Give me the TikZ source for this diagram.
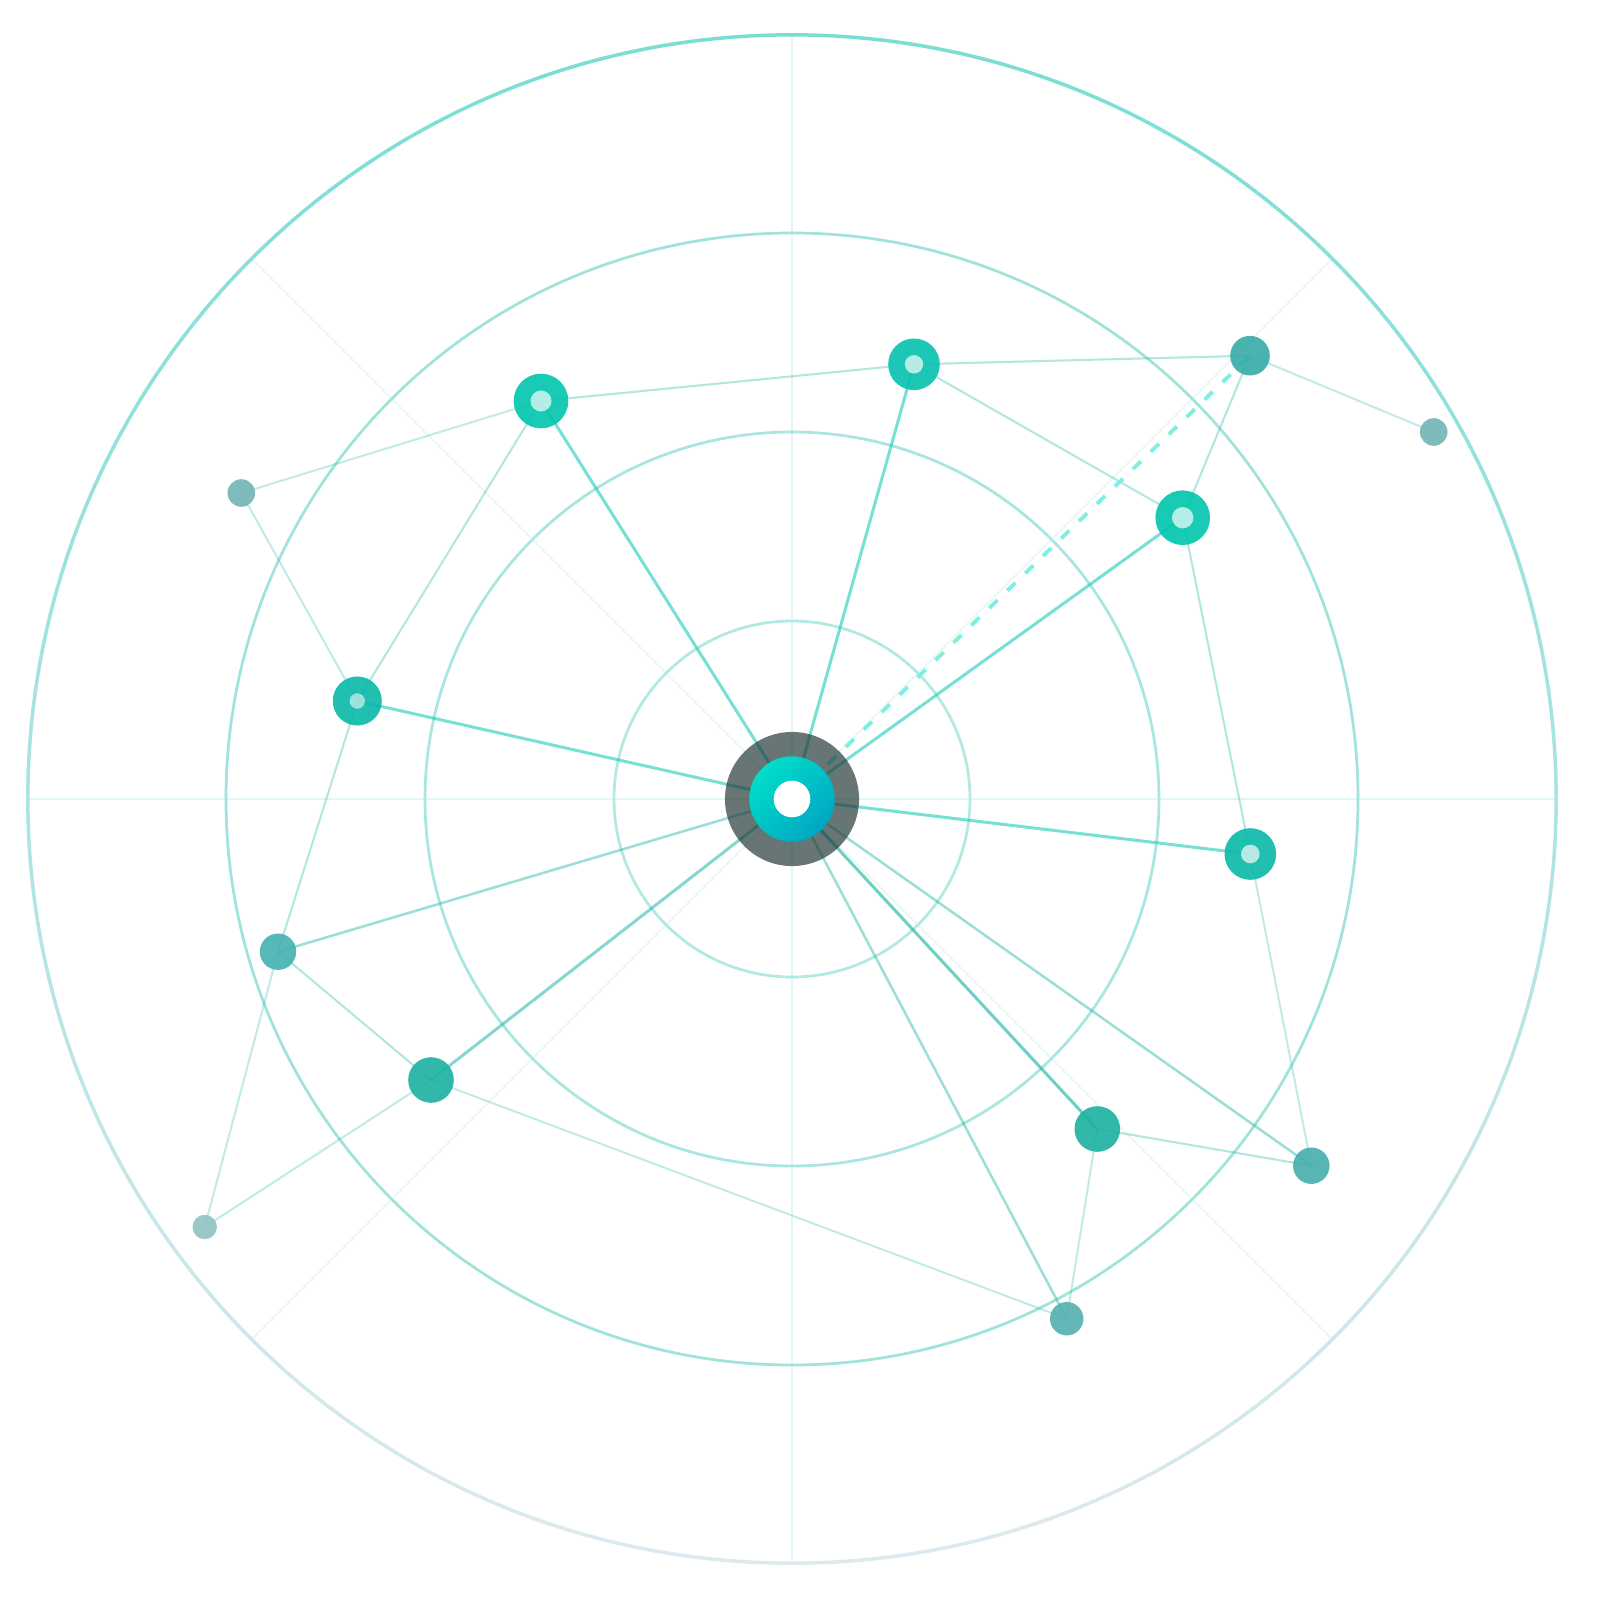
\documentclass[tikz,border=0pt]{standalone}
\definecolor{outerTop}{HTML}{78DED4}
\definecolor{outerBot}{HTML}{DEE9EE}
\definecolor{ringOne}{HTML}{B2E9E2}
\definecolor{ringTwo}{HTML}{A8E6DF}
\definecolor{ringThree}{HTML}{A0E3DB}
\definecolor{gridC}{HTML}{E2F6F3}
\definecolor{gridD}{HTML}{E8F8F5}
\definecolor{edgeMain}{HTML}{22CDBB}
\definecolor{edgeMid}{HTML}{16B3A3}
\definecolor{edgePer}{HTML}{1FB8A6}
\definecolor{dashC}{HTML}{7EF0E2}
\definecolor{hubGray}{HTML}{1F3535}
\definecolor{hubTop}{HTML}{00DEC8}
\definecolor{hubBot}{HTML}{00A6C2}
\definecolor{nBright}{HTML}{00C6AD}
\definecolor{nBrightB}{HTML}{06C2AE}
\definecolor{nRing}{HTML}{09B9A8}
\definecolor{nD}{HTML}{37ABA7}
\definecolor{nE}{HTML}{72B4B3}
\definecolor{nH}{HTML}{45B1B1}
\definecolor{nI}{HTML}{1CB1A0}
\definecolor{nJ}{HTML}{91C2C1}
\definecolor{nL}{HTML}{45ADAD}
\definecolor{nM}{HTML}{55AFAF}
\tikzset{
  gridline/.style={draw=gridC, line width=0.45pt},
  gridline2/.style={draw=gridD, line width=0.42pt},
  ringline/.style={line width=0.78pt},
  spokemain/.style={draw=edgeMain, draw opacity=0.62, line width=0.85pt},
  spokemid/.style={draw=edgeMid, draw opacity=0.62, line width=0.85pt},
  spokemid2/.style={draw=edgeMid, draw opacity=0.52, line width=0.85pt},
  spokelight/.style={draw=edgeMid, draw opacity=0.42, line width=0.72pt},
  periph/.style={draw=edgePer, draw opacity=0.34, line width=0.58pt},
  periphfaint/.style={draw=edgePer, draw opacity=0.27, line width=0.58pt},
  dashlink/.style={draw=dashC, line width=1.1pt, dash pattern=on 3.2pt off 3.9pt},
  dot/.style={circle, inner sep=0pt, draw=none, fill opacity=0.9},
  hole/.style={circle, inner sep=0pt, draw=none, fill=white, fill opacity=0.68},
}
\begin{document}
\begin{tikzpicture}[x=0.01cm,y=-0.01cm]
\useasboundingbox (0,0) rectangle (1600,1600);
\fill[white] (0,0) rectangle (1600,1600);

% coordinates
\coordinate (O) at (792,799);
\coordinate (A) at (541,401);
\coordinate (B) at (914,364.3);
\coordinate (C) at (1182.7,517.7);
\coordinate (N) at (1250.3,854);
\coordinate (G) at (357.3,701);
\coordinate (D) at (1250,355.7);
\coordinate (E) at (1433.7,432);
\coordinate (F) at (241.3,493);
\coordinate (H) at (278,951.7);
\coordinate (I) at (431,1080);
\coordinate (J) at (204.7,1227);
\coordinate (K) at (1097.3,1129);
\coordinate (L) at (1311.3,1165.7);
\coordinate (M) at (1066.7,1318.7);
\coordinate (gW) at (28,799);
\coordinate (gE) at (1556,799);
\coordinate (gN) at (792,35);
\coordinate (gS) at (792,1563);
\coordinate (gNW) at (252,259);
\coordinate (gSE) at (1332,1339);
\coordinate (gNE) at (1332,259);
\coordinate (gSW) at (252,1339);

% grid spokes
\draw[gridline] (gW) -- (gE);
\draw[gridline] (gN) -- (gS);
\draw[gridline2] (gNW) -- (gSE);
\draw[gridline2] (gNE) -- (gSW);

% rings
\draw[ringline, draw=ringOne] (O) circle[radius=178];
\draw[ringline, draw=ringTwo] (O) circle[radius=367];
\draw[ringline, draw=ringThree] (O) circle[radius=566];
\shade[top color=outerTop, bottom color=outerBot, even odd rule]
  (O) circle[radius=765.9] (O) circle[radius=762.4];

% peripheral edges
\draw[periph] (A) -- (B);
\draw[periph] (B) -- (D);
\draw[periph] (B) -- (C);
\draw[periph] (D) -- (C);
\draw[periphfaint] (D) -- (E);
\draw[periph] (C) -- (N);
\draw[periphfaint] (N) -- (L);
\draw[periph] (K) -- (L);
\draw[periphfaint] (K) -- (M);
\draw[periphfaint] (I) -- (M);
\draw[periph] (I) -- (H);
\draw[periphfaint] (I) -- (J);
\draw[periphfaint] (H) -- (J);
\draw[periph] (G) -- (H);
\draw[periphfaint] (G) -- (F);
\draw[periphfaint] (F) -- (A);
\draw[periph] (A) -- (G);

% hub spokes
\draw[spokemain] (O) -- (A);
\draw[spokemain] (O) -- (B);
\draw[spokemain] (O) -- (C);
\draw[spokemain] (O) -- (N);
\draw[spokemain] (O) -- (G);
\draw[spokemid] (O) -- (K);
\draw[spokemid2] (O) -- (I);
\draw[spokelight] (O) -- (H);
\draw[spokelight] (O) -- (L);
\draw[spokelight] (O) -- (M);
\draw[dashlink] (O) -- (D);

% nodes
\node[dot, fill=nBright, minimum size=5.46mm] (An) at (A) {};
\node[hole, minimum size=2.1mm] (Ah) at (A) {};
\node[dot, fill=nBrightB, minimum size=5.16mm] (Bn) at (B) {};
\node[hole, minimum size=1.84mm] (Bh) at (B) {};
\node[dot, fill=nBright, minimum size=5.46mm] (Cn) at (C) {};
\node[hole, minimum size=2.14mm] (Ch) at (C) {};
\node[dot, fill=nRing, minimum size=5.16mm] (Nn) at (N) {};
\node[hole, minimum size=1.86mm] (Nh) at (N) {};
\node[dot, fill=nRing, minimum size=4.9mm] (Gn) at (G) {};
\node[hole, fill opacity=0.56, minimum size=1.54mm] (Gh) at (G) {};
\node[dot, fill=nD, minimum size=3.96mm] (Dn) at (D) {};
\node[dot, fill=nE, minimum size=2.76mm] (En) at (E) {};
\node[dot, fill=nE, minimum size=2.76mm] (Fn) at (F) {};
\node[dot, fill=nH, minimum size=3.64mm] (Hn) at (H) {};
\node[dot, fill=nI, minimum size=4.56mm] (In) at (I) {};
\node[dot, fill=nJ, minimum size=2.44mm] (Jn) at (J) {};
\node[dot, fill=nI, minimum size=4.56mm] (Kn) at (K) {};
\node[dot, fill=nL, minimum size=3.64mm] (Ln) at (L) {};
\node[dot, fill=nM, minimum size=3.34mm] (Mn) at (M) {};

% hub
\node[circle, inner sep=0pt, fill=hubGray, fill opacity=0.68, minimum size=13.4mm] (hub) at (O) {};
\node[circle, inner sep=0pt, top color=hubTop, bottom color=hubBot, shading angle=45, minimum size=8.54mm] (hubcore) at (O) {};
\node[circle, inner sep=0pt, fill=white, minimum size=3.66mm] (hubhole) at (O) {};
\end{tikzpicture}
\end{document}
